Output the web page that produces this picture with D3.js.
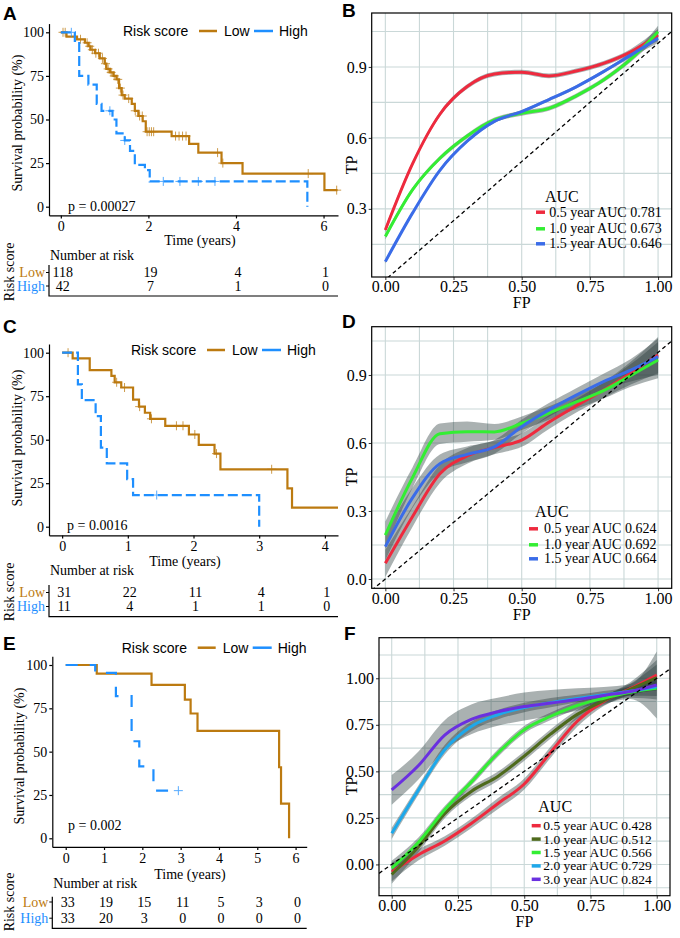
<!DOCTYPE html>
<html>
<head>
<meta charset="utf-8">
<script src="https://cdn.jsdelivr.net/npm/d3@7"></script>
<style>
  body { margin: 0; background: #fff; }
</style>
</head>
<body>
<svg id="fig" width="680" height="938"></svg>
<script>
// ---------- data: Kaplan-Meier panels (time in years, survival in %) ----------
// A - training set
const aLow = [[0,100],[0.13,97.5],[0.37,96],[0.55,94],[0.63,92],[0.68,90],[0.78,88],[0.89,85],[1.0,82],[1.04,79],[1.12,77],[1.2,75],[1.27,73],[1.33,68],[1.39,64],[1.46,62],[1.62,59],[1.69,55],[1.77,52],[1.87,49],[1.94,43],[2.53,40.5],[2.93,36],[3.14,31],[3.67,25],[4.15,19],[6.02,9.5]]
const aLowCens = [0.05,0.1,0.45,0.6,0.66,0.72,0.8,0.86,0.95,1.02,1.08,1.15,1.22,1.3,1.36,1.42,1.55,1.7,1.8,1.86,1.97,2.02,2.07,2.12,2.62,2.7,2.78,2.86,3.58,3.7,5.65,6.3]
const aHigh = [[0,100],[0.32,95],[0.42,75],[0.63,70],[0.82,59],[0.93,55],[1.18,50],[1.27,42],[1.46,38],[1.58,32],[1.69,24],[1.92,21],[2.03,14.5],[5.63,0]]
const aHighCens = [0.24,1.12,1.46,2.34,2.72,3.14,3.52]
const aRiskTimes = [0, 2, 4, 6]
const aRiskLow = [118, 19, 4, 1]
const aRiskHigh = [42, 7, 1, 0]

// C - validation set 1
const cLow = [[0,100],[0.16,96.7],[0.42,90],[0.75,86.7],[0.8,83],[0.9,80],[1.08,73],[1.17,69],[1.26,65.5],[1.34,62],[1.57,58],[1.93,53],[2.08,47],[2.32,42],[2.41,33],[3.43,22],[3.5,11]]
const cLowCens = [0.09,0.83,0.95,1.18,1.36,1.74,1.84,2.02,2.35,3.19]
const cHigh = [[0,100],[0.24,81.8],[0.3,72.7],[0.51,63.6],[0.59,45.5],[0.68,36.4],[0.99,27.3],[1.08,18.2],[3.0,0]]
const cHighCens = [1.44]
const cRiskTimes = [0, 1, 2, 3, 4]
const cRiskLow = [31, 22, 11, 4, 1]
const cRiskHigh = [11, 4, 1, 1, 0]

// E - validation set 2
const eLow = [[0,100],[0.81,95],[2.24,88.5],[3.11,80],[3.26,72],[3.44,62],[5.57,41],[5.62,20],[5.83,0]]
const eLowCens = []
const eHigh = [[0,100],[0.77,95.5],[1.31,82],[1.72,56],[1.92,41.5],[2.29,27.5]]
const eHighCens = [2.94]
const eRiskTimes = [0, 1, 2, 3, 4, 5, 6]
const eRiskLow = [33, 19, 15, 11, 5, 3, 0]
const eRiskHigh = [33, 20, 3, 0, 0, 0, 0]

// ---------- data: time-dependent ROC panels ----------
const rocFP = [0, 0.1, 0.2, 0.3, 0.4, 0.5, 0.6, 0.7, 0.8, 0.9, 1.0]
const fpMajor = [0, 0.25, 0.5, 0.75, 1]
const fpMinor = [0.125, 0.375, 0.625, 0.875]

// B
const bTP05 = [0.211,0.491,0.70,0.817,0.87,0.878,0.862,0.883,0.915,0.964,1.035]
const bTP10 = [0.183,0.381,0.514,0.608,0.676,0.704,0.725,0.778,0.845,0.933,1.049]
const bTP15 = [0.077,0.283,0.463,0.586,0.670,0.711,0.762,0.816,0.880,0.950,1.021]
const bSE05 = [0.012,0.01,0.01,0.01,0.01,0.01,0.01,0.01,0.01,0.012,0.025]
const bSE10 = [0.012,0.01,0.01,0.01,0.01,0.01,0.01,0.01,0.01,0.012,0.025]
const bSE15 = [0.008,0.007,0.007,0.007,0.007,0.007,0.007,0.007,0.007,0.01,0.02]
const bLabels = ["0.5 year AUC 0.781", "1.0 year AUC 0.673", "1.5 year AUC 0.646"]

// D
const dTP05 = [0.069,0.276,0.464,0.543,0.580,0.613,0.692,0.764,0.833,0.908,0.988]
const dTP10 = [0.194,0.448,0.641,0.650,0.649,0.687,0.732,0.781,0.831,0.898,0.966]
const dTP15 = [0.143,0.359,0.509,0.550,0.583,0.672,0.746,0.811,0.871,0.921,0.981]
const dSE05 = [0.06,0.045,0.04,0.035,0.03,0.03,0.03,0.03,0.035,0.05,0.08]
const dSE10 = [0.06,0.045,0.045,0.045,0.035,0.03,0.03,0.03,0.035,0.05,0.08]
const dSE15 = [0.06,0.045,0.04,0.035,0.03,0.03,0.03,0.03,0.035,0.05,0.08]
const dLabels = ["0.5 year AUC 0.624", "1.0 year AUC 0.692", "1.5 year AUC 0.664"]

// F
const fTP05 = [-0.04,0.051,0.126,0.22,0.326,0.432,0.603,0.769,0.876,0.944,1.018]
const fTP10 = [-0.054,0.093,0.273,0.392,0.473,0.582,0.701,0.806,0.880,0.941,1.004]
const fTP15 = [-0.02,0.118,0.294,0.442,0.597,0.724,0.796,0.854,0.893,0.925,0.946]
const fTP20 = [0.167,0.398,0.616,0.741,0.804,0.843,0.869,0.891,0.911,0.931,0.955]
const fTP30 = [0.40,0.53,0.695,0.779,0.82,0.848,0.867,0.886,0.908,0.929,0.964]
const fSE05 = [0.05,0.03,0.025,0.025,0.03,0.03,0.03,0.03,0.025,0.035,0.08]
const fSE10 = [0.05,0.03,0.025,0.025,0.025,0.025,0.025,0.025,0.025,0.03,0.07]
const fSE15 = [0.04,0.025,0.02,0.02,0.02,0.02,0.02,0.02,0.02,0.03,0.06]
const fSE20 = [0.03,0.025,0.025,0.025,0.025,0.025,0.025,0.02,0.02,0.025,0.05]
const fSE30 = [0.08,0.075,0.08,0.08,0.075,0.075,0.07,0.06,0.045,0.04,0.18]
const fLabels = ["0.5 year AUC 0.428", "1.0 year AUC 0.512", "1.5 year AUC 0.566", "2.0 year AUC 0.729", "3.0 year AUC 0.824"]

// ---------- drawing ----------
const svg = d3.select("#fig")
const serif = '"Liberation Serif","Times New Roman",serif'
const sans = '"Liberation Sans",Arial,sans-serif'
const lowCol = "#BC7A10", highCol = "#1E8FFF"

function label(t, x, y, size, opts = {}) {
  const el = svg.append("text").attr("x", x).attr("y", y).text(t)
    .style("font-family", opts.family || serif).style("font-size", size + "px")
    .attr("fill", opts.fill || "#000")
    .attr("text-anchor", opts.anchor || "start")
  if (opts.bold) el.style("font-weight", "bold")
  if (opts.rotate) el.attr("transform", `rotate(-90,${x},${y})`)
  return el
}

function surv(steps, t) {
  let s = 100
  steps.forEach(d => { if (d[0] <= t) s = d[1] })
  return s
}

function drawKM(p) {
  const k = (p.y100 - p.y0) / 100
  const x = d3.scaleLinear().domain(p.xDomain).range([p.left, p.right])
  const y = d3.scaleLinear().domain([-5, 105]).range([p.y0 - 5 * k, p.y100 + 5 * k])
  const g = svg.append("g")

  const xAxis = g.append("g").attr("transform", `translate(0,${y(-5)})`)
    .call(d3.axisBottom(x).tickValues(p.xTicks).tickFormat(d3.format("d"))
      .tickSize(3).tickPadding(3).tickSizeOuter(0))
  const yAxis = g.append("g").attr("transform", `translate(${x(p.xDomain[0])},0)`)
    .call(d3.axisLeft(y).tickValues([0, 25, 50, 75, 100]).tickSize(3).tickPadding(2).tickSizeOuter(0))
  ;[xAxis, yAxis].forEach(a => {
    a.selectAll("text").style("font-family", serif).style("font-size", "14px").attr("fill", "#000")
    a.selectAll("line,path").attr("stroke", "#000").attr("stroke-width", 1.2)
  })

  const line = d3.line().x(d => x(d[0])).y(d => y(d[1])).curve(d3.curveStepAfter)
  const groups = [
    { steps: p.low, end: p.lowEnd, cens: p.lowCens, col: lowCol, dash: null },
    { steps: p.high, end: p.highEnd, cens: p.highCens, col: highCol, dash: p.dash }
  ]
  groups.forEach(s => {
    const pts = s.steps.concat([[s.end, s.steps[s.steps.length - 1][1]]])
    g.append("path").attr("d", line(pts)).attr("fill", "none")
      .attr("stroke", s.col).attr("stroke-width", 2.2)
      .attr("stroke-dasharray", s.dash)
    s.cens.forEach(t => {
      const cx = x(t), cy = y(surv(s.steps, t))
      g.append("path").attr("d", `M${cx - 4.5},${cy}h9M${cx},${cy - 4.5}v9`)
        .attr("stroke", s.col).attr("stroke-width", 1).attr("opacity", 0.75)
    })
  })

  // legend
  const L = p.legend
  label("Risk score", L.x, L.y + 5, 14, { family: sans })
  g.append("line").attr("x1", L.x + 76).attr("x2", L.x + 94).attr("y1", L.y).attr("y2", L.y)
    .attr("stroke", lowCol).attr("stroke-width", 2.5)
  label("Low", L.x + 101, L.y + 5, 14, { family: sans })
  g.append("line").attr("x1", L.x + 131).attr("x2", L.x + 150).attr("y1", L.y).attr("y2", L.y)
    .attr("stroke", highCol).attr("stroke-width", 2.5)
  label("High", L.x + 156, L.y + 5, 14, { family: sans })

  label(p.pval, p.pX, p.pY, 14)
  label("Survival probability (%)", p.ylabX, p.ylabY, 14, { anchor: "middle", rotate: true })
  label("Time (years)", p.timeX, p.timeY, 14, { anchor: "middle" })
  label(p.letter, p.letterX, p.letterY, 19, { family: sans, bold: true })

  // risk table
  const T = p.table
  label("Number at risk", T.titleX, T.titleY, 14)
  const tx = x(p.xDomain[0])
  g.append("path").attr("d", `M${tx},${T.top}V${T.bottom}H${p.right}`)
    .attr("fill", "none").attr("stroke", "#000").attr("stroke-width", 1.2)
  ;[[T.lowY, "Low", lowCol, p.riskLow], [T.highY, "High", highCol, p.riskHigh]].forEach(r => {
    g.append("line").attr("x1", tx - 3).attr("x2", tx).attr("y1", r[0] - 4.5).attr("y2", r[0] - 4.5)
      .attr("stroke", "#000")
    label(r[1], tx - 4, r[0], 14, { anchor: "end", fill: r[2] })
    r[3].forEach((n, i) => label(String(n), x(p.riskTimes[i]) + 2, r[0], 14, { anchor: "middle" }))
  })
  label("Risk score", 14, T.rotY, 14, { anchor: "middle", rotate: true })
}

function drawROC(p) {
  const [x0, y0, x1, y1] = p.box
  const x = d3.scaleLinear().domain(p.xDomain).range([x0, x1])
  const y = d3.scaleLinear().domain(p.yDomain).range([y1, y0])
  const g = svg.append("g")
  const clipId = "clip" + p.letter
  svg.append("clipPath").attr("id", clipId).append("rect")
    .attr("x", x0).attr("y", y0).attr("width", x1 - x0).attr("height", y1 - y0)

  // grid
  const grid = g.append("g")
  fpMinor.concat(fpMajor).forEach(v => grid.append("line")
    .attr("x1", x(v)).attr("x2", x(v)).attr("y1", y0).attr("y2", y1))
  p.yMinor.concat(p.yMajor).forEach(v => grid.append("line")
    .attr("x1", x0).attr("x2", x1).attr("y1", y(v)).attr("y2", y(v)))
  grid.selectAll("line").attr("stroke", "#cad8d8").attr("stroke-width", 1.1)

  const plot = g.append("g").attr("clip-path", `url(#${clipId})`)
  const area = (tp, se) => d3.area()
    .x((d, i) => x(rocFP[i])).y0((d, i) => y(tp[i] - se[i])).y1((d, i) => y(tp[i] + se[i]))
    .curve(d3.curveMonotoneX)(tp)
  const line = tp => d3.line().x((d, i) => x(rocFP[i])).y(d => y(d)).curve(d3.curveMonotoneX)(tp)

  p.series.forEach(s => plot.append("path").attr("d", area(s.tp, s.se))
    .attr("fill", "#2a3c3c").attr("opacity", 0.4))
  p.series.forEach(s => plot.append("path").attr("d", line(s.tp))
    .attr("fill", "none").attr("stroke", s.col).attr("stroke-width", 3))
  plot.append("line")
    .attr("x1", x(p.xDomain[0])).attr("y1", y(p.xDomain[0]))
    .attr("x2", x(p.xDomain[1])).attr("y2", y(p.xDomain[1]))
    .attr("stroke", "#000").attr("stroke-width", 1.3).attr("stroke-dasharray", "4,3")

  const xa = g.append("g").attr("transform", `translate(0,${y1})`)
    .call(d3.axisBottom(x).tickValues(fpMajor).tickFormat(d3.format(".2f")).tickSize(3).tickPadding(1).tickSizeOuter(0))
  const ya = g.append("g").attr("transform", `translate(${x0},0)`)
    .call(d3.axisLeft(y).tickValues(p.yMajor).tickFormat(d3.format(p.yFmt)).tickSize(3).tickPadding(2).tickSizeOuter(0))
  ;[xa, ya].forEach(a => {
    a.select(".domain").remove()
    a.selectAll("text").style("font-family", serif).style("font-size", "16px").attr("fill", "#000")
    a.selectAll("line").attr("stroke", "#333").attr("stroke-width", 1)
  })

  g.append("rect").attr("x", x0).attr("y", y0).attr("width", x1 - x0).attr("height", y1 - y0)
    .attr("fill", "none").attr("stroke", "#000").attr("stroke-width", 1.2)

  label("FP", (x0 + x1) / 2, p.fpY, 16, { anchor: "middle" })
  label("TP", 357, p.tpY, 16, { anchor: "middle", rotate: true })
  label(p.letter, p.letterX, p.letterY, 19, { family: sans, bold: true })

  const L = p.legend
  label("AUC", L.titleX, L.titleY, 16)
  p.series.forEach((s, i) => {
    g.append("line").attr("x1", L.keyX).attr("x2", L.keyX + 9)
      .attr("y1", L.rows[i] - 4.5).attr("y2", L.rows[i] - 4.5)
      .attr("stroke", s.col).attr("stroke-width", 3.5)
    label(s.name, L.textX, L.rows[i], L.size || 14)
  })
}

drawKM({
  letter: "A", letterX: 3, letterY: 20,
  left: 49, right: 338, xDomain: [-0.27, 6.33], y100: 32.3, y0: 206.7, xTicks: aRiskTimes,
  low: aLow, lowEnd: 6.32, lowCens: aLowCens, high: aHigh, highEnd: 5.63, highCens: aHighCens,
  dash: "10,4", legend: { x: 123, y: 31 },
  pval: "p = 0.00027", pX: 68, pY: 211, ylabX: 22, ylabY: 123, timeX: 200, timeY: 245,
  riskTimes: aRiskTimes, riskLow: aRiskLow, riskHigh: aRiskHigh,
  table: { titleX: 50, titleY: 260, lowY: 277, highY: 290.5, top: 265, bottom: 296, rotY: 272 }
})

drawKM({
  letter: "C", letterX: 3, letterY: 333,
  left: 49, right: 338, xDomain: [-0.2, 4.2], y100: 352.7, y0: 526.7, xTicks: cRiskTimes,
  low: cLow, lowEnd: 4.2, lowCens: cLowCens, high: cHigh, highEnd: 3.0, highCens: cHighCens,
  dash: "10,4", legend: { x: 131, y: 350 },
  pval: "p = 0.0016", pX: 67, pY: 530, ylabX: 22, ylabY: 438, timeX: 185, timeY: 566,
  riskTimes: cRiskTimes, riskLow: cRiskLow, riskHigh: cRiskHigh,
  table: { titleX: 50, titleY: 575, lowY: 597, highY: 611, top: 585, bottom: 616.7, rotY: 592 }
})

drawKM({
  letter: "E", letterX: 3, letterY: 650,
  left: 52.3, right: 306.7, xDomain: [-0.35, 6.29], y100: 665, y0: 838.3, xTicks: eRiskTimes,
  low: eLow, lowEnd: 5.83, lowCens: eLowCens, high: eHigh, highEnd: 2.94, highCens: eHighCens,
  dash: "12,12", legend: { x: 121.7, y: 647.7 },
  pval: "p = 0.002", pX: 68, pY: 830, ylabX: 24, ylabY: 756, timeX: 190, timeY: 878.5,
  riskTimes: eRiskTimes, riskLow: eRiskLow, riskHigh: eRiskHigh,
  table: { titleX: 53.3, titleY: 888, lowY: 906.5, highY: 922.7, top: 896.7, bottom: 928.3, rotY: 902 }
})

drawROC({
  letter: "B", letterX: 342, letterY: 17,
  box: [371.7, 13, 671.7, 277], xDomain: [-0.05, 1.05], yDomain: [0.012, 1.128],
  yMajor: [0.3, 0.6, 0.9], yMinor: [0.15, 0.45, 0.75, 1.05], yFmt: ".1f",
  fpY: 308, tpY: 165,
  series: [
    { name: bLabels[0], tp: bTP05, se: bSE05, col: "#EE2A3E" },
    { name: bLabels[1], tp: bTP10, se: bSE10, col: "#33EE33" },
    { name: bLabels[2], tp: bTP15, se: bSE15, col: "#3A6CE8" }
  ],
  legend: { keyX: 536, titleX: 545, textX: 549.3, titleY: 201.7, rows: [216.7, 233.3, 248.3] }
})

drawROC({
  letter: "D", letterX: 342, letterY: 328,
  box: [371.7, 326.7, 671.7, 588.3], xDomain: [-0.05, 1.05], yDomain: [-0.041, 1.113],
  yMajor: [0, 0.3, 0.6, 0.9], yMinor: [0.15, 0.45, 0.75, 1.05], yFmt: ".1f",
  fpY: 620, tpY: 477,
  series: [
    { name: dLabels[0], tp: dTP05, se: dSE05, col: "#EE2A3E" },
    { name: dLabels[1], tp: dTP10, se: dSE10, col: "#33EE33" },
    { name: dLabels[2], tp: dTP15, se: dSE15, col: "#3A6CE8" }
  ],
  legend: { keyX: 529, titleX: 535, textX: 544, titleY: 516.7, rows: [533.3, 549.3, 563.3] }
})

drawROC({
  letter: "F", letterX: 344, letterY: 640,
  box: [379, 637.7, 670, 895.7], xDomain: [-0.048, 1.05], yDomain: [-0.168, 1.218],
  yMajor: [0, 0.25, 0.5, 0.75, 1], yMinor: [-0.125, 0.125, 0.375, 0.625, 0.875, 1.125], yFmt: ".2f",
  fpY: 927, tpY: 786,
  series: [
    { name: fLabels[0], tp: fTP05, se: fSE05, col: "#EE2A3E" },
    { name: fLabels[1], tp: fTP10, se: fSE10, col: "#4E6A1C" },
    { name: fLabels[2], tp: fTP15, se: fSE15, col: "#33EE33" },
    { name: fLabels[3], tp: fTP20, se: fSE20, col: "#1EA8EA" },
    { name: fLabels[4], tp: fTP30, se: fSE30, col: "#6A30E0" }
  ],
  legend: { keyX: 531.7, titleX: 538.3, textX: 543.3, titleY: 811.7, rows: [830.2, 843.6, 857, 870.4, 883.8], size: 13.5 }
})
</script>
</body>
</html>
